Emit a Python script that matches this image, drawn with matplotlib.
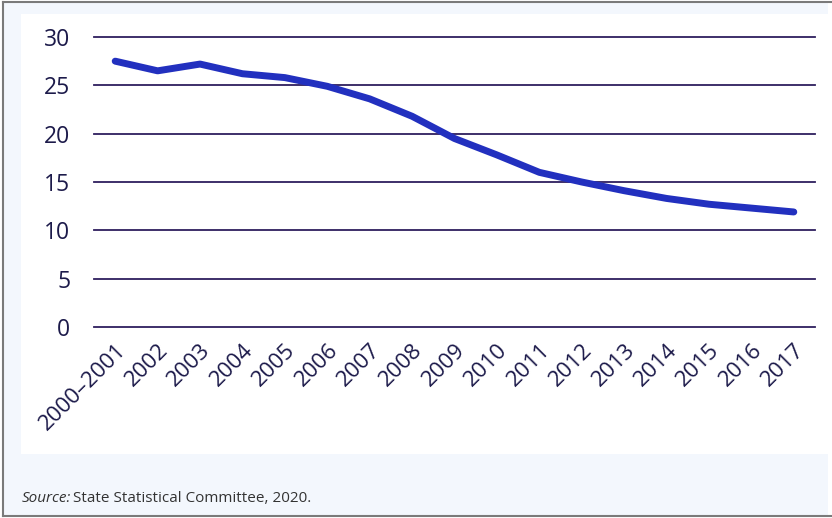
import matplotlib
matplotlib.use("Agg")
import matplotlib.pyplot as plt
from matplotlib.patches import Rectangle
from matplotlib.lines import Line2D

# Data
years = ["2000–2001", "2002", "2003", "2004", "2005", "2006", "2007", "2008",
         "2009", "2010", "2011", "2012", "2013", "2014", "2015", "2016", "2017"]
values = [27.5, 26.5, 27.2, 26.2, 25.8, 24.9, 23.6, 21.8,
          19.5, 17.8, 16.0, 15.0, 14.1, 13.3, 12.7, 12.3, 11.9]
y_ticks = [0, 5, 10, 15, 20, 25, 30]
source_note = "State Statistical Committee, 2020."

W, H = 832, 518
fig = plt.figure(figsize=(W / 100, H / 100), dpi=100)
fig.patch.set_facecolor("white")

def fx(px):
    return px / W

def fy(py):
    return 1 - py / H

# Light blue frame area and white chart panel (behind the axes)
fig.patches.append(Rectangle((fx(3), fy(516)), fx(825), 513 / H,
                             transform=fig.transFigure, facecolor="#f3f7fd",
                             edgecolor="none", zorder=-2))
fig.patches.append(Rectangle((fx(21), fy(454)), fx(811), 440 / H,
                             transform=fig.transFigure, facecolor="white",
                             edgecolor="none", zorder=-1))
border = "#7a7a7a"
for xs, ys in [([fx(3), fx(3)], [fy(2), fy(516)]),
               ([fx(3), 1.0], [fy(2), fy(2)]),
               ([fx(3), 1.0], [fy(516), fy(516)])]:
    fig.lines.append(Line2D(xs, ys, transform=fig.transFigure, color=border,
                            linewidth=1.5, zorder=1))

ax = fig.add_axes([fx(94), fy(327), fx(815 - 94), 290 / H])
ax.set_facecolor("none")
ax.set_xlim(-0.5, 16.5)
ax.set_ylim(0, 30)

grid_color = "#2e1f5e"
for t in y_ticks:
    ax.axhline(t, color=grid_color, linewidth=1.3, zorder=1, clip_on=False)

x = list(range(len(years)))
ax.plot(x, values, color="#2230bf", linewidth=5, solid_capstyle="round",
        solid_joinstyle="round", zorder=3)

for s in ax.spines.values():
    s.set_visible(False)

font = "Open Sans"
tick_color = "#1c1a4a"
ax.set_yticks(y_ticks)
ax.set_yticklabels([str(t) for t in y_ticks], fontfamily=font, fontsize=16.5,
                   color=tick_color)
ax.set_xticks(x)
ax.set_xticklabels(years, rotation=45, ha="right", rotation_mode="anchor",
                   fontfamily=font, fontsize=16, color=tick_color)
ax.tick_params(axis="both", length=0)
ax.tick_params(axis="y", pad=17)
ax.tick_params(axis="x", pad=9)

fig.text(fx(22), fy(498), "Source:", fontfamily=font, fontstyle="italic",
         fontsize=11, color="#333333", va="center", ha="left")
fig.text(fx(22 + 51), fy(498), source_note, fontfamily=font,
         fontsize=11, color="#333333", va="center", ha="left")

fig.savefig("out.png", dpi=100, facecolor=fig.get_facecolor())
